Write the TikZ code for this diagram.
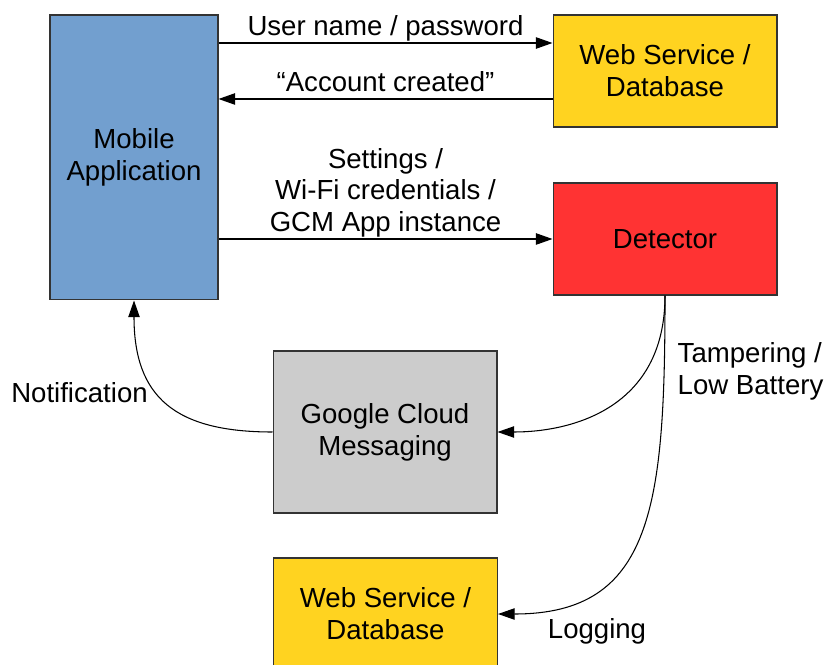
\documentclass[tikz,border=0pt]{standalone}
\usepackage{fontspec}
\setmainfont{Liberation Sans}
\usetikzlibrary{arrows.meta}
\definecolor{appblue}{HTML}{729FCF}
\definecolor{webyellow}{HTML}{FFD320}
\definecolor{detred}{HTML}{FF3333}
\definecolor{gcmgray}{HTML}{CCCCCC}

\begin{document}
\begin{tikzpicture}[x=0.02cm,y=-0.02cm,>={Triangle[length=9.5pt,width=6.5pt]},line width=0.8pt,
  box/.style={draw=black!80,line width=0.6pt,align=center,inner sep=0pt,minimum width=4.48cm},
  lbl/.style={above,inner sep=0.5pt,text depth=3.3pt,align=center},
  curve/.style={->,line width=0.6pt},
  every node/.style={font=\fontsize{15.7}{18.1}\selectfont}]
\useasboundingbox (0,0) rectangle (824,665);
\clip (0,0) rectangle (824,665);
\node[box,fill=appblue,minimum width=3.36cm,minimum height=5.7cm] (app) at (134,157.5) {Mobile\\Application};
\node[box,fill=webyellow,minimum height=2.24cm] (web1) at (665,71) {Web Service /\\Database};
\node[box,fill=detred,minimum height=2.24cm] (det) at (665,239) {Detector};
\node[box,fill=gcmgray,minimum height=3.24cm] (gcm) at (385,432) {Google Cloud\\Messaging};
\node[box,fill=webyellow,minimum height=2.24cm] (web2) at (385.5,614) {Web Service /\\Database};
\coordinate (usr) at ([yshift=0.56cm]web1.west);
\coordinate (acc) at ([yshift=-0.56cm]web1.west);
\draw[->] (app.east |- usr) -- node[lbl] {User name / password} (usr);
\draw[->] (acc) -- node[lbl] {“Account created”} (app.east |- acc);
\draw[->] (app.east |- det.west) -- node[lbl] {Settings /\\Wi-Fi credentials /\\GCM App instance} (det.west);
\draw[curve] (det.south) to[out=-90,in=0,out looseness=1.35,in looseness=0.86] (gcm.east);
\draw[curve] (det.south) to[out=-90,in=0,out looseness=1.5,in looseness=1.1] (web2.east);
\draw[curve] (gcm.west) to[out=180,in=-90,looseness=1.3] (app.south);
\node[align=left,anchor=west,inner sep=0pt] (tamp) at (677,371) {Tampering /\\Low Battery};
\node[inner sep=0pt] (notif) at (79.5,393) {Notification};
\node[inner sep=0pt] (logg) at (597,631) {Logging};
\end{tikzpicture}
\end{document}
